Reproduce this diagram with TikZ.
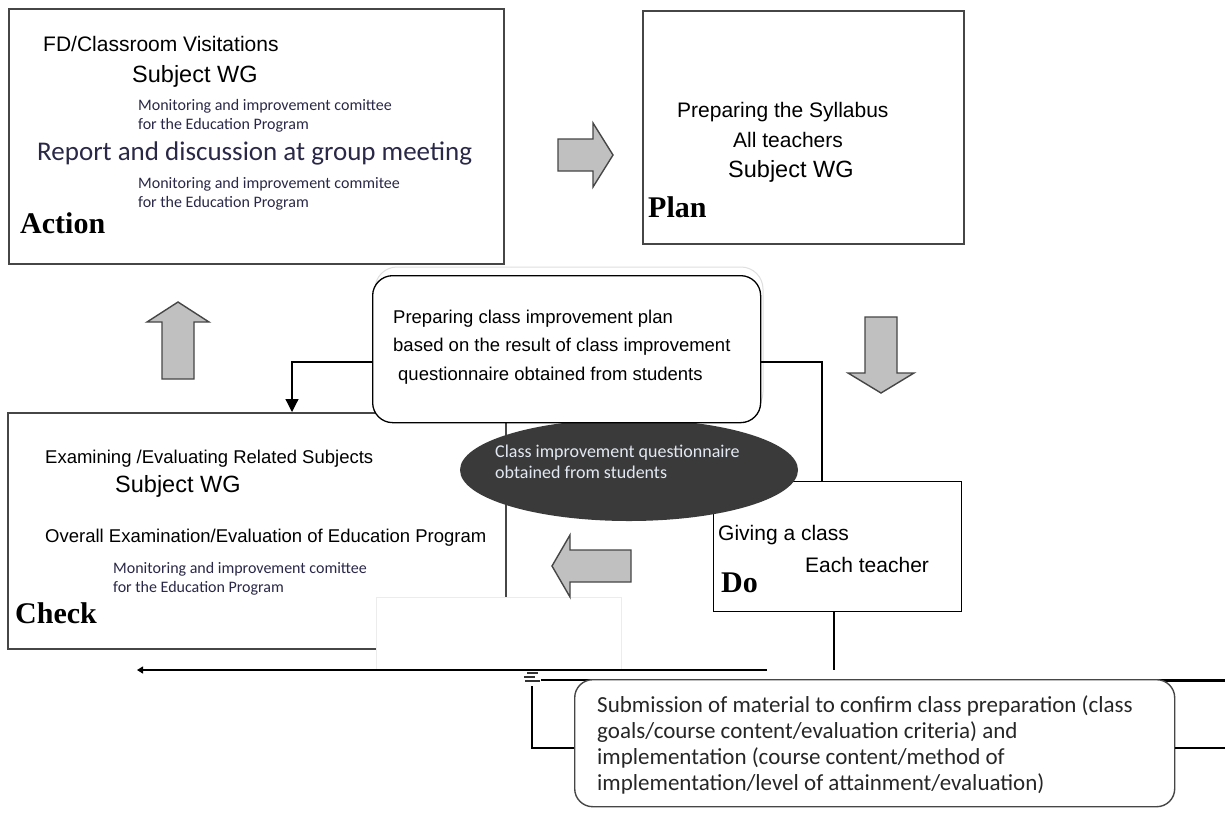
\documentclass[tikz,border=0pt]{standalone}
\usepackage{fontspec}
\setmainfont{Liberation Sans}
\newfontfamily\clfont{Carlito}
\newfontfamily\phfont{Liberation Serif}
\usetikzlibrary{arrows.meta,shapes.geometric}

\definecolor{boxgray}{RGB}{70,70,70}
\definecolor{arrowfill}{RGB}{192,192,192}
\definecolor{navytext}{RGB}{42,40,72}
\definecolor{ovalfill}{RGB}{58,58,58}
\definecolor{ovaltext}{RGB}{226,233,243}

\tikzset{
  phasebox/.style={draw=boxgray, line width=1.8pt, anchor=north west, inner sep=0pt, fill=white},
  roundbox/.style={draw=black, line width=1.3pt, rounded corners=20pt, anchor=north west, inner sep=0pt, fill=white},
  bigarrow/.style={fill=arrowfill, draw=boxgray, line width=1.4pt, line join=miter},
  link/.style={draw=black, line width=1.2pt},
  txt/.style={anchor=base west, inner sep=0pt, font=\fontsize{21}{24}\selectfont},
  smalltxt/.style={anchor=base west, inner sep=0pt, font=\fontsize{18.5}{22}\selectfont},
  wgtxt/.style={anchor=base west, inner sep=0pt, font=\fontsize{23.5}{27}\selectfont},
  montxt/.style={anchor=base west, inner sep=0pt, align=left, text=navytext, font=\clfont\fontsize{16}{19}\selectfont},
  phasetxt/.style={anchor=base west, inner sep=0pt, font=\phfont\bfseries\fontsize{30}{33}\selectfont},
}

\begin{document}
\begin{tikzpicture}[x=1pt,y=-1pt]
\useasboundingbox (0,0) rectangle (1225,812);
\fill[white] (0,0) rectangle (1225,812);
% Action box (multi-line texts are placed by their last baseline)
\node[phasebox, minimum width=495pt, minimum height=255pt] (action) at (8,8) {};
\node[txt] (fdvisit) at (43,51) {FD/Classroom Visitations};
\node[wgtxt] (actwg) at (132,82) {Subject WG};
\node[montxt] (actmon1) at (138,129) {Monitoring and improvement comittee\\for the Education Program};
\node[anchor=base west, inner sep=0pt, text=navytext, font=\clfont\fontsize{27}{31}\selectfont] (report) at (37,160) {Report and discussion at group meeting};
\node[montxt] (actmon2) at (138,207) {Monitoring and improvement commitee\\for the Education Program};
\node[phasetxt] (actlbl) at (20,233) {Action};
% Plan box
\node[phasebox, minimum width=321pt, minimum height=233pt] (plan) at (642,10) {};
\node[txt] (syllabus) at (677,117) {Preparing the Syllabus};
\node[txt] (allteach) at (733,147) {All teachers};
\node[wgtxt] (planwg) at (728,177) {Subject WG};
\node[phasetxt] (planlbl) at (648,217) {Plan};
% Check box, partly hidden by a blank sheet
\node[phasebox, minimum width=498pt, minimum height=236pt] (check) at (7,412) {};
\node[smalltxt] (examsub) at (45,463) {Examining /Evaluating Related Subjects};
\node[wgtxt] (checkwg) at (115,492) {Subject WG};
\node[smalltxt] (overall) at (45,542) {Overall Examination/Evaluation of Education Program};
\node[montxt] (checkmon) at (113,592) {Monitoring and improvement comittee\\for the Education Program};
\node[phasetxt] (checklbl) at (15,623) {Check};
\filldraw[fill=white, draw=gray!15, line width=0.8pt] (376,597) rectangle (621,670);
% Do box
\node[phasebox, draw=black, line width=1.4pt, minimum width=248pt, minimum height=130pt] (dobox) at (713,481) {};
\node[txt] (giving) at (718,540) {Giving a class};
\node[txt] (eachteach) at (805,572) {Each teacher};
\node[phasetxt] (dolbl) at (721,592) {Do};
% big arrows between phases
\filldraw[bigarrow] (558,139) -- (593,139) -- (593,123) -- (613,155) -- (593,187) -- (593,171) -- (558,171) -- cycle;
\filldraw[bigarrow] (865,317) -- (897,317) -- (897,373) -- (914,373) -- (881,393) -- (848,373) -- (865,373) -- cycle;
\filldraw[bigarrow] (631,550) -- (631,582) -- (570,582) -- (570,597) -- (552,566) -- (570,535) -- (570,550) -- cycle;
\filldraw[bigarrow] (162,379) -- (162,322) -- (147,322) -- (178,302) -- (209,322) -- (194,322) -- (194,379) -- cycle;
% questionnaire oval
\node[ellipse, fill=ovalfill, minimum width=338pt, minimum height=102pt, inner sep=0pt] (quest) at (629,470) {};
\node[anchor=base west, inner sep=0pt, align=left, text=ovaltext, font=\clfont\fontsize{18}{21}\selectfont] (questtxt) at (495,478) {Class improvement questionnaire\\obtained from students};
% improvement plan
\draw[gray!25, line width=1pt, rounded corners=22pt] (375,267) rectangle (763,414);
\node[roundbox, minimum width=388pt, minimum height=147pt] (cplan) at (372,275) {};
\node[anchor=base west, inner sep=0pt, align=left, font=\fontsize{18.5}{28.5}\selectfont] (cplantxt) at (393,380) {Preparing class improvement plan\\based on the result of class improvement\\\hspace*{5pt}questionnaire obtained from students};
\draw[link, -{Triangle[length=13pt,width=13pt]}] (cplan.west |- 0,362) -| (check.north -| 292,0);
\draw[link] (cplan.east |- 0,362) -| (dobox.north -| 822,0);
% feedback lines
\draw[link] (dobox.south -| 834,0) -- ++(0,58);
\coordinate (feedR) at (767,670);
\coordinate (feedL) at (137,670);
\draw[link, -{Triangle[length=6pt,width=7pt]}] (feedR) -- (feedL);
\draw[line width=1.5pt, black!80] (527,673) -- (538,673) (524,677) -- (535,677) (525,681) -- (540,681);
\draw[link] (541,680) -- (1225,680);
\draw[line width=3pt] (1162,680) -- (1225,680);
% submission box
\node[roundbox, draw=boxgray, line width=1.4pt, rounded corners=18pt, minimum width=600pt, minimum height=127pt] (submit) at (574,679) {};
\node[montxt, text=black!85, font=\clfont\fontsize{23}{26}\selectfont] (submittxt) at (597,790) {Submission of material to confirm class preparation (class\\goals/course content/evaluation criteria) and\\implementation (course content/method of\\implementation/level of attainment/evaluation)};
\draw[link] (532,686) |- (submit.west |- 0,748);
\draw[link] (submit.east |- 0,748) -- (1225,748);
\end{tikzpicture}
\end{document}
